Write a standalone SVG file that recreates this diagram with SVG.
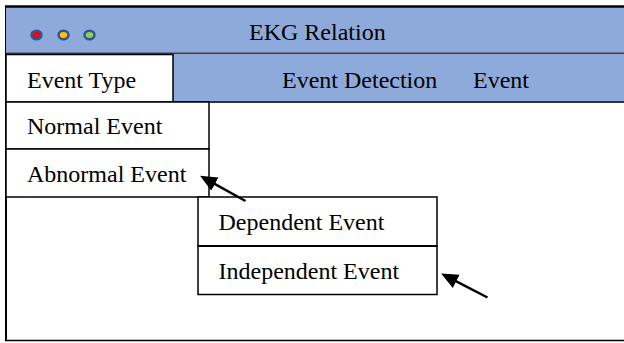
<svg xmlns="http://www.w3.org/2000/svg" width="624" height="343" viewBox="0 0 624 343">
<defs>
<style>
.t{font-family:"Liberation Serif","Times New Roman",serif;font-size:24px;fill:#000}
.box{fill:#fff;stroke:#000;stroke-width:1.5}
.bar{fill:#8EAADB}
.dot{stroke:#2F5597;stroke-width:2.5}
.arr{stroke:#000;stroke-width:2.5;fill:none;marker-end:url(#ah)}
</style>
<marker id="ah" markerUnits="userSpaceOnUse" markerWidth="20" markerHeight="16" refX="7" refY="7.5" orient="auto" viewBox="0 0 20 16">
<path d="M0,0 L17,7.5 L0,15 z" fill="#000"/>
</marker>
</defs>
<rect width="624" height="343" fill="#fff"/>
<g id="frame">
<line x1="6" y1="6" x2="6" y2="341" stroke="#000" stroke-width="2"/>
<line x1="5" y1="340.5" x2="624" y2="340.5" stroke="#000" stroke-width="1.5"/>
</g>
<g id="title-bar">
<rect class="bar" x="6" y="7" width="620" height="47"/>
<line x1="5" y1="6.5" x2="624" y2="6.5" stroke="#000" stroke-width="2.5"/>
<line x1="6" y1="53.5" x2="624" y2="53.5" stroke="#3a4456" stroke-width="2"/>
<ellipse class="dot" cx="36.5" cy="35" rx="5" ry="4.2" fill="#FF0000"/>
<ellipse class="dot" cx="63.5" cy="35" rx="5" ry="4.2" fill="#FFC000"/>
<ellipse class="dot" cx="89.5" cy="35" rx="5" ry="4.2" fill="#92D050"/>
<text class="t" x="249" y="39.5">EKG Relation</text>
</g>
<g id="menu-bar">
<rect class="bar" x="6" y="54.5" width="620" height="47"/>
<line x1="6" y1="102" x2="624" y2="102" stroke="#333" stroke-width="2"/>
<text class="t" x="282" y="87.5">Event Detection</text>
<text class="t" x="473" y="87.5">Event</text>
</g>
<g id="event-type">
<rect class="box" x="6" y="54.5" width="167" height="47.5"/>
<text class="t" x="27" y="87.5">Event Type</text>
</g>
<g id="normal-event">
<rect class="box" x="6" y="102" width="203" height="47"/>
<text class="t" x="27" y="134">Normal Event</text>
</g>
<g id="abnormal-event">
<rect class="box" x="6" y="149" width="203" height="48"/>
<text class="t" x="27" y="182">Abnormal Event</text>
</g>
<g id="dependent-event">
<rect class="box" x="198" y="197" width="239" height="49"/>
<text class="t" x="218.5" y="230">Dependent Event</text>
</g>
<g id="independent-event">
<rect class="box" x="198" y="246" width="239" height="48.5"/>
<line x1="198" y1="246" x2="437" y2="246" stroke="#000" stroke-width="2"/>
<text class="t" x="218.5" y="279">Independent Event</text>
</g>
<g id="connectors">
<line class="arr" x1="245.5" y1="201" x2="208.8" y2="180.7"/>
<line class="arr" x1="487.5" y1="297.5" x2="450" y2="278.1"/>
</g>
</svg>
